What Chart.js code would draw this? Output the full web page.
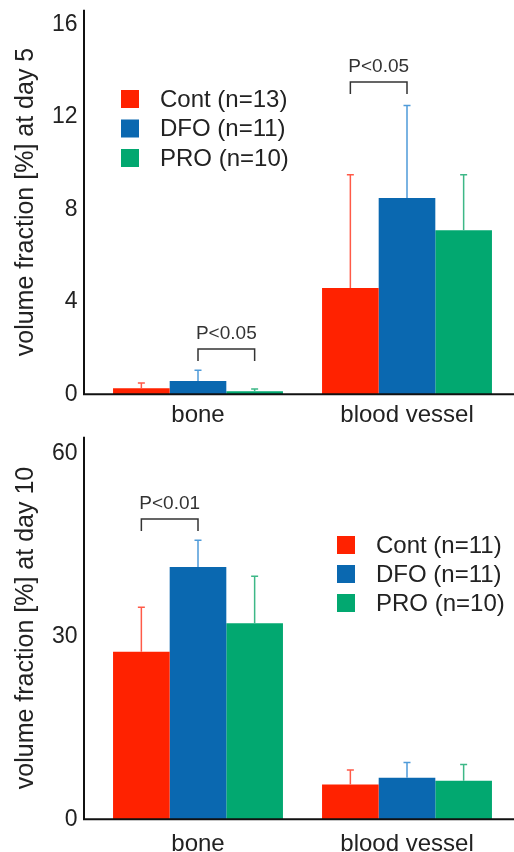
<!doctype html>
<html lang="en">
<head>
<meta charset="utf-8">
<title>Volume fraction at day 5 and day 10</title>
<script src="https://cdn.jsdelivr.net/npm/chart.js@4.4.0/dist/chart.umd.min.js"></script>
<style>
  html, body { margin: 0; padding: 0; background: #fff; width: 514px; height: 852px; overflow: hidden; position: relative; }
  canvas { position: absolute; left: 0; }
  #day5 { top: -20px; }
  #day10 { top: 407px; }
</style>
</head>
<body>
<canvas id="day5" width="514" height="457"></canvas>
<canvas id="day10" width="514" height="463"></canvas>
<script>
const categories = ['bone', 'blood vessel'];
const groups = ['Cont', 'DFO', 'PRO'];

// day 5: means and SD (upper whisker only)
const day5N = [13, 11, 10];
const day5Cont = [0.26, 4.6];
const day5DFO = [0.57, 8.5];
const day5PRO = [0.13, 7.1];
const day5ContSD = [0.22, 4.9];
const day5DFOSD = [0.47, 4.0];
const day5PROSD = [0.09, 2.4];
const day5Ticks = [0, 4, 8, 12, 16];
const day5Sig = [
    { cat: 0, from: 1, to: 2, at: 1.96, text: 'P<0.05' },
    { cat: 1, from: 0, to: 1, at: 13.52, text: 'P<0.05' }
];

// day 10
const day10N = [11, 11, 10];
const day10Cont = [27.5, 5.7];
const day10DFO = [41.4, 6.8];
const day10PRO = [32.2, 6.3];
const day10ContSD = [7.3, 2.4];
const day10DFOSD = [4.4, 2.5];
const day10PROSD = [7.7, 2.7];
const day10Ticks = [0, 30, 60];
const day10Sig = [
    { cat: 0, from: 0, to: 1, at: 49.3, text: 'P<0.01' }
];

const barColors = ['#ff2200', '#0a68b0', '#02a870'];
const errColors = ['#ff5a48', '#4f9bd9', '#3db887'];

Chart.defaults.font.family = "'Liberation Sans', Arial, sans-serif";
Chart.defaults.color = '#222';

// error bars, axis lines, significance brackets and legend
const extras = {
    id: 'extras',
    afterDatasetsDraw(chart, args, opts) {
        const ctx = chart.ctx;
        const y = chart.scales.y;
        const area = chart.chartArea;
        ctx.save();

        chart.data.datasets.forEach((ds, i) => {
            chart.getDatasetMeta(i).data.forEach((bar, j) => {
                const top = y.getPixelForValue(ds.data[j] + ds.sd[j]);
                ctx.strokeStyle = ds.errColor;
                ctx.lineWidth = 1.5;
                ctx.beginPath();
                ctx.moveTo(bar.x, bar.y);
                ctx.lineTo(bar.x, top);
                ctx.moveTo(bar.x - 3.5, top);
                ctx.lineTo(bar.x + 3.5, top);
                ctx.stroke();
            });
        });

        const y0 = y.getPixelForValue(0);
        const ax = area.left - 9.5;
        ctx.strokeStyle = '#111';
        ctx.lineWidth = 2;
        ctx.beginPath();
        ctx.moveTo(ax, area.top);
        ctx.lineTo(ax, y0);
        ctx.lineTo(chart.width, y0);
        ctx.stroke();

        ctx.font = "19px 'Liberation Sans', Arial, sans-serif";
        ctx.textAlign = 'center';
        ctx.textBaseline = 'bottom';
        opts.sig.forEach(s => {
            const xa = chart.getDatasetMeta(s.from).data[s.cat].x;
            const xb = chart.getDatasetMeta(s.to).data[s.cat].x;
            const yt = y.getPixelForValue(s.at);
            ctx.strokeStyle = '#333';
            ctx.lineWidth = 1.5;
            ctx.beginPath();
            ctx.moveTo(xa, yt + 12);
            ctx.lineTo(xa, yt);
            ctx.lineTo(xb, yt);
            ctx.lineTo(xb, yt + 12);
            ctx.stroke();
            ctx.fillStyle = '#333';
            ctx.fillText(s.text, (xa + xb) / 2, yt - 6);
        });

        const lg = opts.legend;
        ctx.font = "24px 'Liberation Sans', Arial, sans-serif";
        ctx.textAlign = 'left';
        ctx.textBaseline = 'middle';
        chart.data.datasets.forEach((ds, i) => {
            const cy = lg.y + i * lg.step;
            ctx.fillStyle = ds.backgroundColor;
            ctx.fillRect(lg.x, cy - 9, 18, 18);
            ctx.fillStyle = '#222';
            ctx.fillText(ds.label, lg.x + 39, cy + 1);
        });
        ctx.restore();
    }
};

function makeChart(id, series, sds, ns, ticks, max, title, sig, legend, pad, labelPad) {
    return new Chart(document.getElementById(id), {
        type: 'bar',
        data: {
            labels: categories,
            datasets: groups.map((g, i) => ({
                label: g + ' (n=' + ns[i] + ')',
                data: series[i],
                sd: sds[i],
                backgroundColor: barColors[i],
                errColor: errColors[i],
                borderWidth: 0,
                categoryPercentage: 0.813,
                barPercentage: 1
            }))
        },
        options: {
            responsive: false,
            animation: false,
            layout: { padding: pad },
            plugins: {
                legend: { display: false },
                tooltip: { enabled: false },
                extras: { sig: sig, legend: legend }
            },
            scales: {
                x: {
                    grid: { display: false, drawTicks: false },
                    border: { display: false },
                    ticks: { font: { size: 24 }, padding: labelPad }
                },
                y: {
                    min: 0,
                    max: max,
                    grid: { display: false, drawTicks: false },
                    border: { display: false },
                    ticks: { font: { size: 23 }, padding: 16 },
                    afterBuildTicks: s => { s.ticks = ticks.map(v => ({ value: v })); },
                    afterFit: s => { s.width = 93.5; },
                    title: { display: true, text: title, font: { size: 25 }, padding: { top: 11, bottom: 0 } }
                }
            }
        },
        plugins: [extras]
    });
}

// legend y is relative to each canvas
makeChart('day5', [day5Cont, day5DFO, day5PRO], [day5ContSD, day5DFOSD, day5PROSD], day5N,
    day5Ticks, 16.65, 'volume fraction [%] at day 5', day5Sig,
    { x: 121, y: 119, step: 29.5 }, { top: 10, right: 2.5, bottom: 0, left: 0 }, 7);

makeChart('day10', [day10Cont, day10DFO, day10PRO], [day10ContSD, day10DFOSD, day10PROSD], day10N,
    day10Ticks, 62.8, 'volume fraction [%] at day 10', day10Sig,
    { x: 337, y: 138, step: 29 }, { top: 12, right: 2.5, bottom: 0, left: 0 }, 11);
</script>
</body>
</html>
